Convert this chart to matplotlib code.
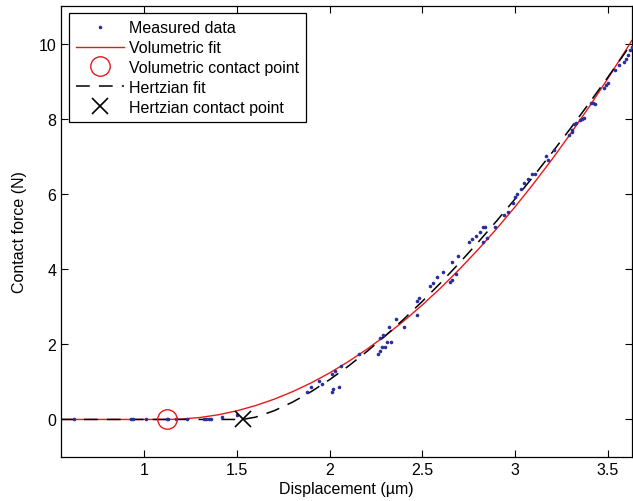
import matplotlib
matplotlib.use("Agg")
import matplotlib.pyplot as plt

plt.rcParams['font.family'] = ['Liberation Sans', 'DejaVu Sans']

# Measured data (displacement in um, force in N)
meas_x = [0.62, 0.93, 0.94, 1.01, 1.12, 1.13, 1.17, 1.23, 1.32, 1.33, 1.35, 1.36, 1.42, 1.50,
          1.88, 1.90, 1.94, 1.96, 2.01, 2.02, 2.05, 2.01, 2.03, 2.06, 2.16,
          2.26, 2.27, 2.28, 2.30, 2.31, 2.33, 2.27, 2.29, 2.32, 2.36, 2.40,
          2.47, 2.47, 2.48, 2.54, 2.56, 2.58, 2.61, 2.65, 2.66, 2.68, 2.66, 2.69,
          2.75, 2.77, 2.79, 2.81, 2.83, 2.84, 2.83, 2.85, 2.89, 2.94, 2.96, 2.99,
          3.00, 3.01, 3.03, 3.05, 3.07, 3.09, 3.11, 3.17, 3.18, 3.21,
          3.29, 3.31, 3.31, 3.32, 3.33, 3.35, 3.36, 3.37, 3.41, 3.42, 3.43,
          3.48, 3.49, 3.50, 3.54, 3.56, 3.59, 3.60, 3.61, 3.62, 3.63]
meas_y = [0.0, 0.0, 0.0, 0.0, 0.0, 0.0, 0.0, 0.0, 0.0, 0.0, 0.01, 0.02, 0.06, 0.13,
          0.74, 0.85, 1.01, 0.93, 0.74, 0.80, 0.85, 1.20, 1.28, 1.41, 1.73,
          1.73, 1.81, 1.94, 1.94, 2.05, 2.07, 2.18, 2.26, 2.45, 2.66, 2.47,
          2.79, 3.14, 3.24, 3.54, 3.64, 3.78, 3.91, 3.67, 3.72, 3.88, 4.18, 4.34,
          4.71, 4.79, 4.87, 5.00, 5.11, 5.13, 4.71, 4.84, 5.13, 5.45, 5.53, 5.77,
          5.93, 6.00, 6.12, 6.30, 6.41, 6.54, 6.52, 7.00, 6.91, 7.18,
          7.58, 7.66, 7.71, 7.85, 7.90, 7.98, 8.00, 8.03, 8.43, 8.43, 8.40,
          8.83, 8.91, 8.96, 9.31, 9.44, 9.52, 9.60, 9.71, 9.84, 9.92]

# Volumetric fit curve
vol_x = [0.55, 1.12, 1.2, 1.3, 1.4, 1.5, 1.6, 1.7, 1.8, 1.9, 2.0, 2.1, 2.2, 2.3, 2.4, 2.5,
         2.6, 2.7, 2.8, 2.9, 3.0, 3.1, 3.2, 3.3, 3.4, 3.5, 3.6, 3.63]
vol_y = [0.0, 0.0, 0.010, 0.052, 0.125, 0.231, 0.369, 0.538, 0.740, 0.973, 1.239, 1.537,
         1.866, 2.228, 2.621, 3.047, 3.505, 3.994, 4.516, 5.069, 5.655, 6.273, 6.922,
         7.604, 8.317, 9.063, 9.841, 10.08]
vol_cp = (1.12, 0.0)

# Hertzian fit curve
hz_x = [0.55, 1.53, 1.6, 1.7, 1.8, 1.9, 2.0, 2.1, 2.2, 2.3, 2.4, 2.5, 2.6, 2.7, 2.8, 2.9,
        3.0, 3.1, 3.2, 3.3, 3.4, 3.5, 3.6, 3.63]
hz_y = [0.0, 0.0, 0.061, 0.231, 0.462, 0.740, 1.060, 1.416, 1.804, 2.223, 2.670, 3.143,
        3.641, 4.164, 4.709, 5.276, 5.864, 6.472, 7.100, 7.747, 8.413, 9.097, 9.798, 10.012]
hz_cp = (1.53, 0.0)

xticks = [1, 1.5, 2, 2.5, 3, 3.5]
xticklabels = ['1', '1.5', '2', '2.5', '3', '3.5']
yticks = [0, 2, 4, 6, 8, 10]
yticklabels = ['0', '2', '4', '6', '8', '10']

FS = 11.5

fig = plt.figure(figsize=(6.33, 5.02), dpi=100)
ax = fig.add_axes([0.0964, 0.0876, 0.9016, 0.8984])

ax.plot(meas_x, meas_y, linestyle='none', marker='o', ms=2.6, color='#2a2f9e',
        mec='none', label='Measured data', zorder=3)
ax.plot(vol_x, vol_y, color='#e8191c', lw=1.0, label='Volumetric fit', zorder=2)
ax.plot([vol_cp[0]], [vol_cp[1]], linestyle='none', marker='o', ms=14, mfc='none',
        mec='#e8191c', mew=1.0, label='Volumetric contact point', zorder=4)
ax.plot(hz_x, hz_y, color='black', lw=1.1, dashes=(9, 6), label='Hertzian fit', zorder=2.5)
ax.plot([hz_cp[0]], [hz_cp[1]], linestyle='none', marker='x', ms=11, color='black',
        mew=1.2, label='Hertzian contact point', zorder=4)

ax.set_xlim(0.55, 3.63)
ax.set_ylim(-1, 11)
ax.set_xticks(xticks)
ax.set_xticklabels(xticklabels)
ax.set_yticks(yticks)
ax.set_yticklabels(yticklabels)
ax.tick_params(direction='in', top=True, right=True, labelsize=FS, length=5, width=0.8)
for s in ax.spines.values():
    s.set_linewidth(0.9)
ax.set_xlabel('Displacement (µm)', fontsize=FS, labelpad=3)
ax.set_ylabel('Contact force (N)', fontsize=FS, labelpad=8)

leg = ax.legend(loc='upper left', bbox_to_anchor=(0.014, 0.984), fontsize=FS,
                handlelength=3.0, handletextpad=0.3, borderpad=0.45, labelspacing=0.3,
                fancybox=False, framealpha=1, edgecolor='black', borderaxespad=0)
leg.get_frame().set_linewidth(0.9)

fig.savefig('out.png', dpi=100)
